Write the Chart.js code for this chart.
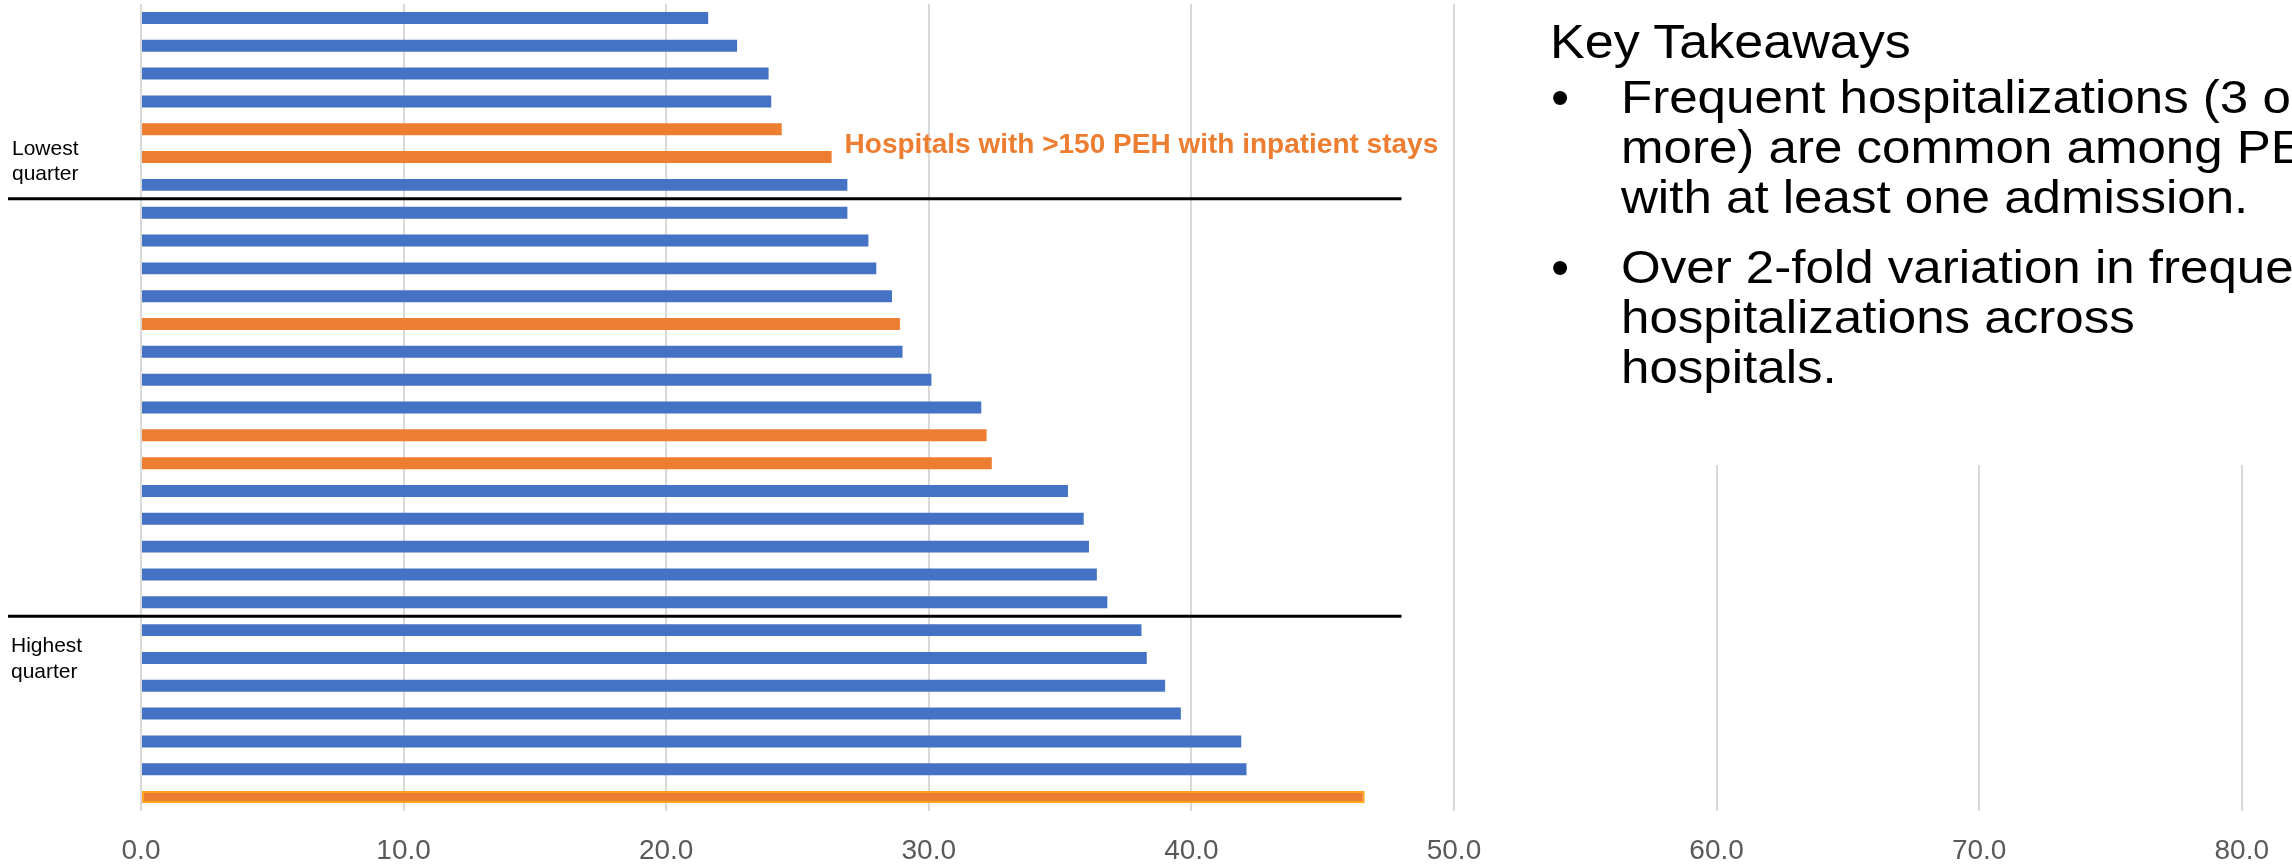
<!DOCTYPE html>
<html>
<head>
<meta charset="utf-8">
<script src="https://cdn.jsdelivr.net/npm/chart.js@4.4.0/dist/chart.umd.min.js"></script>
<style>
    html, body {
        margin: 0;
        padding: 0;
        background: #fff;
        overflow: hidden;
    }
    #wrap {
        position: relative;
        width: 2292px;
        height: 867px;
        overflow: hidden;
    }
    #freqChart {
        position: absolute;
        left: 0;
        top: 0;
    }
    #notes {
        position: absolute;
        left: 1480px;
        top: 0;
        width: 812px;
        height: 465px;
        background: #fff;
        overflow: hidden;
        font-family: "Liberation Sans", Arial, sans-serif;
        color: #000;
        white-space: nowrap;
    }
    #notes .head {
        position: absolute;
        left: 70px;
        top: 12px;
        font-size: 48px;
        line-height: 59px;
        transform: scaleX(1.085);
        transform-origin: left top;
    }
    #notes .item {
        position: absolute;
        left: 73px;
        font-size: 46px;
        line-height: 50px;
    }
    #notes .item .dot {
        position: absolute;
        left: -2px;
        top: 0;
        font-size: 52px;
    }
    #notes .item .txt {
        position: absolute;
        left: 68px;
        top: 0;
        transform: scaleX(1.11);
        transform-origin: left top;
    }
</style>
</head>
<body>
<div id="wrap">
    <canvas id="freqChart" width="2292" height="867"></canvas>
    <div id="notes">
        <div class="head">Key Takeaways</div>
        <div class="item" style="top: 72px;">
            <span class="dot">•</span>
            <div class="txt">Frequent hospitalizations (3 or<br>more) are common among PEH<br>with at least one admission.</div>
        </div>
        <div class="item" style="top: 242px;">
            <span class="dot">•</span>
            <div class="txt">Over 2-fold variation in frequent<br>hospitalizations across<br>hospitals.</div>
        </div>
    </div>
</div>

<script>
// one row per hospital, sorted from lowest to highest share of frequent stays
const hospitals = [
    'H01', 'H02', 'H03', 'H04', 'H05', 'H06', 'H07', 'H08', 'H09', 'H10',
    'H11', 'H12', 'H13', 'H14', 'H15', 'H16', 'H17', 'H18', 'H19', 'H20',
    'H21', 'H22', 'H23', 'H24', 'H25', 'H26', 'H27', 'H28', 'H29'
];

// % of PEH with 3+ hospitalizations among those with at least one admission
const pctFrequent = [
    21.6, 22.7, 23.9, 24.0, 24.4, 26.3, 26.9, 26.9, 27.7, 28.0,
    28.6, 28.9, 29.0, 30.1, 32.0, 32.2, 32.4, 35.3, 35.9, 36.1,
    36.4, 36.8, 38.1, 38.3, 39.0, 39.6, 41.9, 42.1, 46.6
];

// hospitals with more than 150 PEH with inpatient stays
const over150 = [
    false, false, false, false, true, true, false, false, false, false,
    false, true, false, false, false, true, true, false, false, false,
    false, false, false, false, false, false, false, false, true
];

// first row below each quarter divider
const quarterBreaks = [7, 22];

const xTicks = [0, 10, 20, 30, 40, 50, 60, 70, 80];

const BLUE = '#4472C4';
const ORANGE = '#ED7D31';
const FONT = '"Liberation Sans", Arial, sans-serif';

const topIdx = pctFrequent.indexOf(Math.max(...pctFrequent));

const barColors = over150.map(big => big ? ORANGE : BLUE);
const barBorders = pctFrequent.map((v, i) => i === topIdx ? '#FFA41C' : 'rgba(0,0,0,0)');
const barBorderWidths = pctFrequent.map((v, i) => i === topIdx ? 2 : 0);

const quarterMarks = {
    id: 'quarterMarks',
    afterDatasetsDraw(chart) {
        const {ctx, scales: {x, y}} = chart;
        ctx.save();

        // divider lines between the quarters
        ctx.strokeStyle = '#000';
        ctx.lineWidth = 3;
        const lineEnd = x.getPixelForValue(48);
        const lineYs = quarterBreaks.map(b => y.getPixelForValue(b - 0.5));
        lineYs.forEach(py => {
            ctx.beginPath();
            ctx.moveTo(8, py);
            ctx.lineTo(lineEnd, py);
            ctx.stroke();
        });

        // quarter captions on the left
        ctx.fillStyle = '#000';
        ctx.font = '21px ' + FONT;
        ctx.textAlign = 'left';
        ctx.textBaseline = 'alphabetic';
        ctx.fillText('Lowest', 12, lineYs[0] - 44);
        ctx.fillText('quarter', 12, lineYs[0] - 19);
        ctx.fillText('Highest', 11, lineYs[1] + 36);
        ctx.fillText('quarter', 11, lineYs[1] + 62);

        // note next to the large hospitals
        const noteRow = 5;
        ctx.fillStyle = ORANGE;
        ctx.font = 'bold 28px ' + FONT;
        ctx.fillText('Hospitals with >150 PEH with inpatient stays',
            x.getPixelForValue(pctFrequent[noteRow]) + 13,
            y.getPixelForValue(noteRow) - 4);

        ctx.restore();
    }
};

new Chart(document.getElementById('freqChart'), {
    type: 'bar',
    data: {
        labels: hospitals,
        datasets: [{
            data: pctFrequent,
            backgroundColor: barColors,
            borderColor: barBorders,
            borderWidth: barBorderWidths,
            borderSkipped: false,
            barPercentage: 0.43,
            categoryPercentage: 1
        }]
    },
    options: {
        indexAxis: 'y',
        responsive: false,
        animation: false,
        devicePixelRatio: 1,
        layout: {
            padding: {left: 141, right: 50, top: 4, bottom: 0}
        },
        plugins: {
            legend: {display: false},
            tooltip: {enabled: false}
        },
        scales: {
            y: {
                display: false
            },
            x: {
                min: xTicks[0],
                max: xTicks[xTicks.length - 1],
                afterBuildTicks: scale => {
                    scale.ticks = xTicks.map(v => ({value: v}));
                },
                afterFit: scale => {
                    scale.height = 56;
                },
                grid: {
                    color: '#D9D9D9',
                    lineWidth: 2,
                    drawTicks: false
                },
                border: {display: false},
                ticks: {
                    padding: 23,
                    color: '#595959',
                    font: {family: FONT, size: 28},
                    callback: v => v.toFixed(1)
                }
            }
        }
    },
    plugins: [quarterMarks]
});
</script>
</body>
</html>
